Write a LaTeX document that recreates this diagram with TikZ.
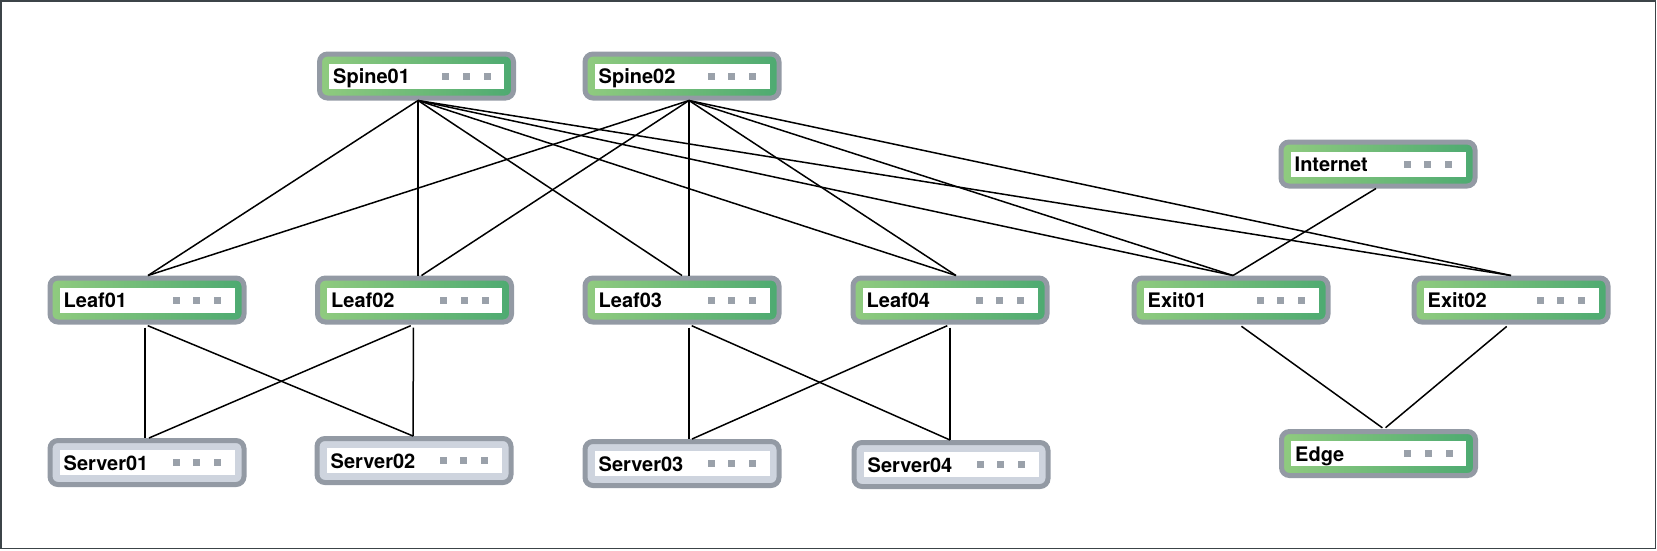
\documentclass[tikz,border=0pt]{standalone}
\usepackage{fontspec}
\setmainfont{TeX Gyre Heros}
\usetikzlibrary{calc}
\definecolor{gborder}{HTML}{939AA4}
\definecolor{gleft}{HTML}{90CB7F}
\definecolor{gright}{HTML}{4DAA71}
\definecolor{sfill}{HTML}{CED4DE}
\definecolor{dotc}{HTML}{9AA1AA}
\definecolor{framec}{HTML}{3C4448}
\tikzset{
 devbox/.style={rectangle, rounded corners=8pt, draw=gborder, line width=5pt, minimum width=194pt, minimum height=44pt, inner sep=0pt},
 greenbox/.style={devbox, left color=gleft, right color=gright},
 serverbox/.style={devbox, fill=sfill},
 devlabel/.style={font=\bfseries\fontsize{20}{22}\selectfont, inner sep=0pt, anchor=base west},
 link/.style={line width=1.5pt, black},
 downlink/.style={link, shorten <=3pt},
 edgelink/.style={link, shorten <=3pt, shorten >=2pt},
}
\newcommand\devnode[5]{%
 \node[#5] (#1) at (#2,#3) {};
 \fill[white] ($(#1.center)+(-87.5,-12.5)$) rectangle ($(#1.center)+(87.5,12.5)$);
 \node[devlabel] (#1-label) at ($(#1.center)+(-83.5,7.5)$) {#4};
 \foreach \dx in {29,49.5,70.5} {\fill[dotc] ($(#1.center)+(\dx-3.5,-3.5)$) rectangle ++(7,7);}
}
\begin{document}
\begin{tikzpicture}[x=1pt,y=-1pt]
\useasboundingbox (0,0) rectangle (1657,550);
\draw[framec, line width=1.2pt] (1,1) rectangle (1655.5,548.5);

\devnode{sp1}{416.5}{76}{Spine01}{greenbox}
\devnode{sp2}{682}{76}{Spine02}{greenbox}
\devnode{inet}{1378}{164}{Internet}{greenbox}
\devnode{lf1}{147}{300}{Leaf01}{greenbox}
\devnode{lf2}{414.5}{300}{Leaf02}{greenbox}
\devnode{lf3}{682}{300}{Leaf03}{greenbox}
\devnode{lf4}{950}{300}{Leaf04}{greenbox}
\devnode{ex1}{1231}{300}{Exit01}{greenbox}
\devnode{ex2}{1511}{300}{Exit02}{greenbox}
\devnode{sv1}{147}{462.5}{Server01}{serverbox}
\devnode{sv2}{414}{460.5}{Server02}{serverbox}
\devnode{sv3}{682}{463.5}{Server03}{serverbox}
\devnode{sv4}{951}{464.5}{Server04}{serverbox}
\devnode{edge}{1378.5}{453.5}{Edge}{greenbox}

% spine01
\draw[link] ([xshift=1.5pt]sp1.south) -- ([xshift=1pt]lf1.north);
\draw[link] ([xshift=1.5pt]sp1.south) -- ([xshift=3.5pt]lf2.north);
\draw[link] ([xshift=1.5pt]sp1.south) -- ([xshift=0pt]lf3.north);
\draw[link] ([xshift=1.5pt]sp1.south) -- ([xshift=6pt]lf4.north);
\draw[link] ([xshift=1.5pt]sp1.south) -- ([xshift=2pt]ex1.north);
\draw[link] ([xshift=1.5pt]sp1.south) -- ([xshift=0pt]ex2.north);
% spine02
\draw[link] ([xshift=7pt]sp2.south) -- ([xshift=1pt]lf1.north);
\draw[link] ([xshift=7pt]sp2.south) -- ([xshift=7pt]lf2.north);
\draw[link] ([xshift=7pt]sp2.south) -- ([xshift=7pt]lf3.north);
\draw[link] ([xshift=7pt]sp2.south) -- ([xshift=6pt]lf4.north);
\draw[link] ([xshift=7pt]sp2.south) -- ([xshift=2pt]ex1.north);
\draw[link] ([xshift=7pt]sp2.south) -- ([xshift=0pt]ex2.north);
% internet
\draw[link] ([xshift=-2pt]inet.south) -- ([xshift=2pt]ex1.north);
% leaves to servers
\draw[downlink] ([xshift=-2pt]lf1.south) -- ([xshift=-2pt]sv1.north);
\draw[downlink] ([xshift=-2pt]lf1.south) -- ([xshift=-1pt]sv2.north);
\draw[downlink] ([xshift=-1pt]lf2.south) -- ([xshift=-1pt]sv2.north);
\draw[downlink] ([xshift=-1pt]lf2.south) -- ([xshift=2pt]sv1.north);
\draw[downlink] ([xshift=7pt]lf3.south) -- ([xshift=7pt]sv3.north);
\draw[downlink] ([xshift=7pt]lf3.south) -- ([xshift=-1pt]sv4.north);
\draw[downlink] ([xshift=0pt]lf4.south) -- ([xshift=-1pt]sv4.north);
\draw[downlink] ([xshift=0pt]lf4.south) -- ([xshift=10pt]sv3.north);
% exits to edge
\draw[edgelink] ([xshift=8pt]ex1.south) -- ([xshift=5.5pt]edge.north);
\draw[edgelink] ([xshift=-2pt]ex2.south) -- ([xshift=5.5pt]edge.north);
\end{tikzpicture}
\end{document}
